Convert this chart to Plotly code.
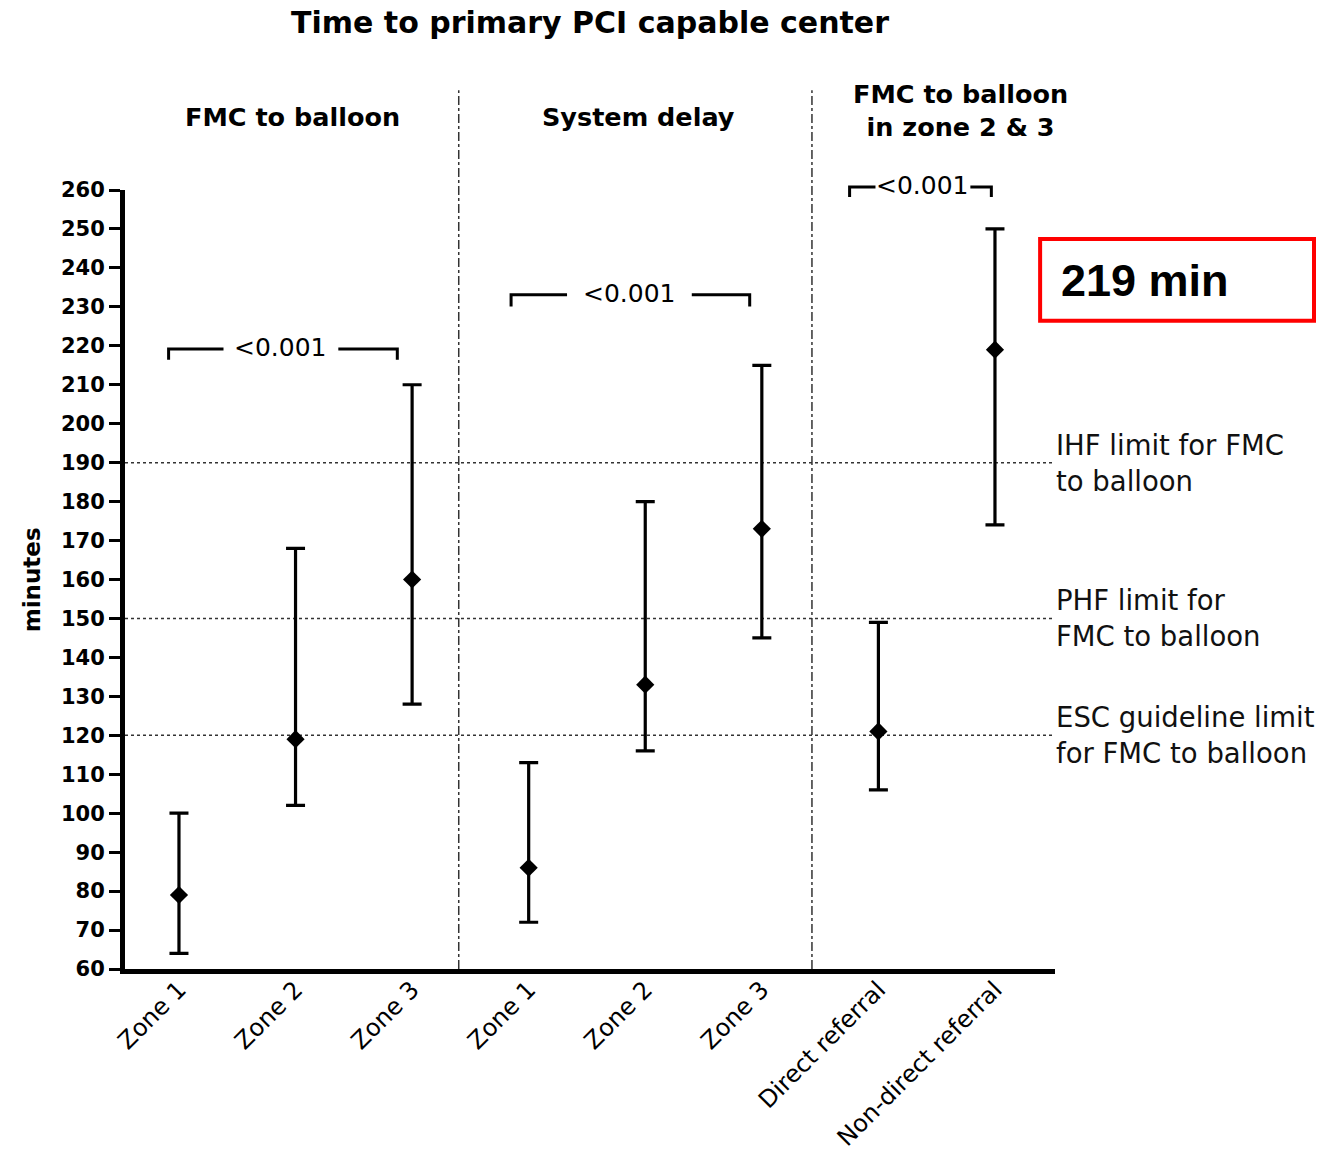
import plotly.graph_objects as go

# ---------------- data ----------------
tick_labels = ["Zone 1", "Zone 2", "Zone 3", "Zone 1", "Zone 2", "Zone 3",
               "Direct referral", "Non-direct referral"]
median_min = [79, 119, 160, 86, 133, 173, 121, 219]
upper_min = [100, 168, 210, 113, 180, 215, 149, 250]
lower_min = [64, 102, 128, 72, 116, 145, 106, 174]

limit_values = [190, 150, 120]
limit_labels = ["IHF limit for FMC<br>to balloon",
                "PHF limit for<br>FMC to balloon",
                "ESC guideline limit<br>for FMC to balloon"]

group_titles = ["FMC to balloon", "System delay", "FMC to balloon<br>in zone 2 & 3"]
p_labels = ["<0.001", "<0.001", "<0.001"]

y_ticks = list(range(60, 261, 10))
Y_MIN, Y_MAX = 60, 260

# ---------------- layout helpers ----------------
def yp(v):
    """data value -> paper fraction on the y axis"""
    return (v - Y_MIN) / (Y_MAX - Y_MIN)

xidx = list(range(len(tick_labels)))
err_plus = [u - m for u, m in zip(upper_min, median_min)]
err_minus = [m - l for m, l in zip(median_min, lower_min)]

fig = go.Figure()
fig.add_trace(go.Scatter(
    x=xidx, y=median_min, mode="markers",
    marker=dict(symbol="diamond", size=14, color="black"),
    error_y=dict(type="data", array=err_plus, arrayminus=err_minus,
                 color="black", thickness=3.2, width=9.5),
    showlegend=False, hoverinfo="y",
))

shapes = []
annotations = []

# reference limit lines
for v, lab in zip(limit_values, limit_labels):
    shapes.append(dict(type="line", xref="paper", yref="y", x0=0, x1=1, y0=v, y1=v,
                       line=dict(color="#333333", width=1.5, dash="dot"), layer="below"))
    annotations.append(dict(text=lab, xref="paper", yref="y", x=0.999, y=v,
                            xanchor="left", yanchor="middle", align="left", showarrow=False,
                            font=dict(family="DejaVu Sans", size=27.5, color="#111111")))

# group dividers (dash-dot)
for xd in [2.40, 5.43]:
    shapes.append(dict(type="line", xref="x", yref="paper", x0=xd, x1=xd,
                       y0=0, y1=yp(285.6),
                       line=dict(color="#333333", width=1.5, dash="dashdot"), layer="below"))

# group titles
for title, xc, yv in zip(group_titles, [0.973, 3.945, 6.703], [278.7, 278.7, 280.5]):
    annotations.append(dict(text=f"<b>{title}</b>".replace("<br>", "</b><br><b>"),
                            xref="x", yref="paper", x=xc, y=yp(yv),
                            xanchor="center", yanchor="middle", showarrow=False,
                            font=dict(family="DejaVu Sans", size=25.5, color="black")))

# significance brackets: (left, gap_left, gap_right, right, level, drop)
brackets = [(-0.089, 0.382, 1.367, 1.873, 219.2, 2.8),
            (2.849, 3.329, 4.399, 4.896, 233.1, 3.0),
            (5.753, 5.975, 6.789, 6.969, 260.8, 2.6)]
for (xl, gl, gr, xr, lev, drop), plab in zip(brackets, p_labels):
    path = (f"M {xl},{yp(lev - drop)} L {xl},{yp(lev)} L {gl},{yp(lev)} "
            f"M {gr},{yp(lev)} L {xr},{yp(lev)} L {xr},{yp(lev - drop)}")
    shapes.append(dict(type="path", xref="x", yref="paper", path=path,
                       line=dict(color="black", width=3)))
    annotations.append(dict(text=plab, xref="x", yref="paper", x=(gl + gr) / 2, y=yp(lev + 0.3),
                            xanchor="center", yanchor="middle", showarrow=False,
                            font=dict(family="DejaVu Sans", size=25, color="black")))

# y axis title
annotations.append(dict(text="<b>minutes</b>", xref="paper", yref="paper", x=-0.1, y=0.499,
                        textangle=-90, xanchor="center", yanchor="middle", showarrow=False,
                        font=dict(family="DejaVu Sans", size=23, color="black")))

# highlighted value box
shapes.append(dict(type="rect", xref="paper", yref="paper",
                   x0=0.984, x1=1.2785, y0=0.832, y1=0.937,
                   line=dict(color="#ff0000", width=4), fillcolor="white"))
annotations.append(dict(text=f"<b>{median_min[-1]} min</b>", xref="paper", yref="paper",
                        x=1.004, y=0.884, xanchor="left", yanchor="middle", showarrow=False,
                        font=dict(family="Liberation Sans", size=45, color="black")))

fig.update_layout(
    width=1322, height=1155,
    paper_bgcolor="white", plot_bgcolor="white",
    margin=dict(l=125, r=267, t=190, b=186, pad=0, autoexpand=False),
    title=dict(text="<b>Time to primary PCI capable center</b>", x=0.4463, y=0.9896,
               xanchor="center", yanchor="top",
               font=dict(family="DejaVu Sans", size=30, color="black")),
    shapes=shapes, annotations=annotations,
    xaxis=dict(range=[-0.463, 7.515], tickvals=xidx, ticktext=tick_labels, tickangle=-45,
               showgrid=False, zeroline=False, showline=True, linecolor="black", linewidth=5,
               ticks="", ticklabelstandoff=-8,
               tickfont=dict(family="DejaVu Sans", size=24, color="black"),
               automargin=False, fixedrange=True),
    yaxis=dict(range=[Y_MIN, Y_MAX], tickvals=y_ticks, showgrid=False, zeroline=False,
               showline=True, linecolor="black", linewidth=5, ticks="outside", ticklen=11,
               tickwidth=3, tickcolor="black",
               tickfont=dict(family="DejaVu Sans", size=21, color="black", weight="bold"),
               automargin=False, fixedrange=True),
)

fig.write_html("out.html", config={"displayModeBar": False},
               post_script="document.body.style.margin='0px';")
